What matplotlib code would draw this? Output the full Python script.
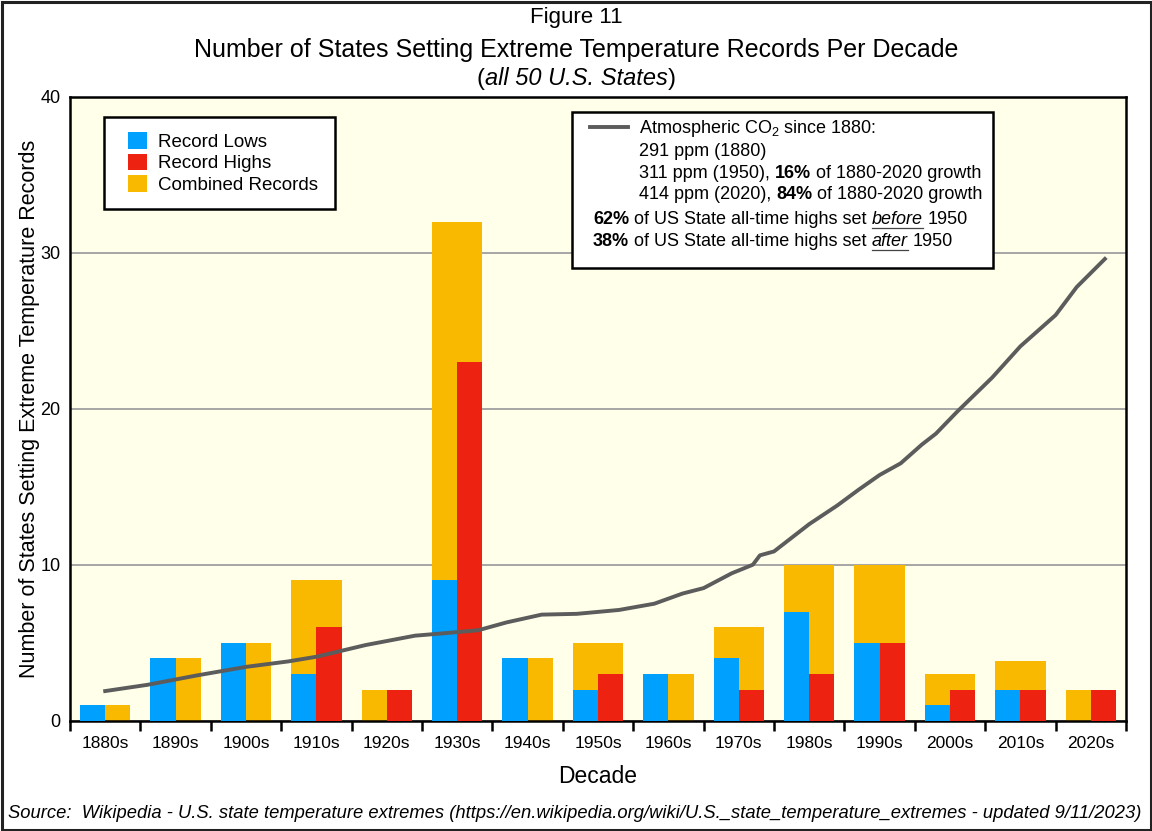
import numpy as np
import matplotlib
matplotlib.use('Agg')
import matplotlib.pyplot as plt
from matplotlib.patches import Patch, Rectangle
from matplotlib.lines import Line2D

plt.rcParams['font.family'] = ['Liberation Sans', 'DejaVu Sans']
plt.rcParams['mathtext.fontset'] = 'custom'
plt.rcParams['mathtext.rm'] = 'Liberation Sans'

# data
decades = ['1880s', '1890s', '1900s', '1910s', '1920s', '1930s', '1940s', '1950s',
           '1960s', '1970s', '1980s', '1990s', '2000s', '2010s', '2020s']
record_lows = [1, 4, 5, 3, 0, 9, 4, 2, 3, 4, 7, 5, 1, 2, 0]
record_highs = [0, 0, 0, 6, 2, 23, 0, 3, 0, 2, 3, 5, 2, 2, 2]
combined = [1, 4, 5, 9, 2, 32, 4, 5, 3, 6, 10, 10, 3, 3.8, 2]

# CO2 curve, already in chart units (as drawn on the left axis)
co2_years = [1880, 1886, 1893, 1900, 1906, 1910, 1917, 1924, 1928, 1933, 1937, 1942,
             1947, 1953, 1958, 1962, 1965, 1969, 1972, 1973, 1975, 1980, 1984, 1987,
             1990, 1993, 1996, 1998, 2001, 2006, 2010, 2015, 2018, 2022]
co2_level = [1.9, 2.3, 2.9, 3.45, 3.8, 4.1, 4.85, 5.45, 5.6, 5.8, 6.3, 6.8,
             6.85, 7.1, 7.5, 8.15, 8.5, 9.45, 10.0, 10.6, 10.85, 12.6, 13.8, 14.8,
             15.75, 16.5, 17.7, 18.4, 19.8, 22.0, 24.0, 26.0, 27.8, 29.6]

BLUE = '#00a0ff'
RED = '#ee2211'
ORANGE = '#f9b900'
GRAY = '#5c5c5c'

fig = plt.figure(figsize=(11.52, 8.31), dpi=100)
FW, FH = 1152.0, 831.0
ax = fig.add_axes([70 / FW, 1 - 720.7 / FH, (1126 - 70) / FW, (720.7 - 96.7) / FH])
ax.set_facecolor('#ffffea')

x = np.arange(len(decades))
w = 0.357
ax.bar(x, combined, width=2 * w, color=ORANGE, zorder=2)
ax.bar(x - w / 2, record_lows, width=w, color=BLUE, zorder=3)
ax.bar(x + w / 2, record_highs, width=w, color=RED, zorder=3)
co2_x = (np.array(co2_years) - 1880) / 10.0
ax.plot(co2_x, co2_level, color=GRAY, lw=2.8, zorder=4)

ax.set_xlim(-0.5, 14.5)
ax.set_ylim(0, 40)
ax.set_xticks(x)
ax.set_xticklabels(decades)
ax.set_xticks(np.arange(-0.5, 15, 1), minor=True)
ax.tick_params(axis='x', which='major', length=0, pad=11, labelsize=12.5)
ax.tick_params(axis='x', which='minor', length=7, width=1.8, direction='out')
ax.set_yticks([0, 10, 20, 30, 40])
ax.tick_params(axis='y', length=0, pad=7, labelsize=13)
ax.yaxis.grid(True, color='#a6a6a6', lw=1.4)
ax.set_axisbelow(True)
for sp in ax.spines.values():
    sp.set_linewidth(1.8)
    sp.set_color('black')

ax.set_ylabel('Number of States Setting Extreme Temperature Records', fontsize=15.5, labelpad=0)
ax.set_xlabel('Decade', fontsize=16.5, labelpad=10)

# legend: frame drawn separately so the content can sit where the original has it
ax.add_patch(Rectangle((104 / FW, 1 - 209 / FH), (335 - 104) / FW, (209 - 117) / FH,
                       transform=fig.transFigure, facecolor='white', edgecolor='black',
                       lw=1.8, zorder=6))
leg = ax.legend(handles=[Patch(facecolor=BLUE, label='Record Lows'),
                         Patch(facecolor=RED, label='Record Highs'),
                         Patch(facecolor=ORANGE, label='Combined Records')],
                loc='upper left', bbox_to_anchor=(113 / FW, 1 - 117 / FH),
                bbox_transform=fig.transFigure, frameon=False,
                fontsize=13.5, handlelength=1.0, handleheight=1.0,
                handletextpad=0.6, labelspacing=0.15, borderpad=0.8, borderaxespad=0)
leg.set_zorder(7)

renderer = fig.canvas.get_renderer()


def text_width(t):
    return t.get_window_extent(renderer).width


def space_width(size):
    a = fig.text(0, 0, 'x x', fontsize=size)
    b = fig.text(0, 0, 'xx', fontsize=size)
    d = text_width(a) - text_width(b)
    a.remove()
    b.remove()
    return d


def rich_line(x_px, base_px, parts, size, center=False):
    # parts: (text, weight, style, underline); ' ' is a plain space
    sp = space_width(size)
    items = []
    for s, weight, style, under in parts:
        if s == ' ':
            items.append((None, sp, False))
            continue
        t = fig.text(0, 1 - base_px / FH, s, fontsize=size, fontweight=weight,
                     fontstyle=style, va='baseline', ha='left')
        items.append((t, text_width(t), under))
    total = sum(i[1] for i in items)
    cur = x_px - total / 2 if center else x_px
    for t, wid, under in items:
        if t is not None:
            t.set_x(cur / FW)
            if under:
                yy = 1 - (base_px + 4) / FH
                fig.add_artist(Line2D([cur / FW, (cur + wid) / FW], [yy, yy],
                                      transform=fig.transFigure, color='#444444', lw=0.9))
        cur += wid


N = ('normal', 'normal', False)
B = ('bold', 'normal', False)

# titles
fig.text(0.5, 1 - 18 / FH, 'Figure 11', ha='center', va='center', fontsize=16)
fig.text(0.5, 1 - 50 / FH, 'Number of States Setting Extreme Temperature Records Per Decade',
         ha='center', va='center', fontsize=18)
rich_line(576, 85, [('(',) + N, ('all 50 U.S. States', 'normal', 'italic', False), (')',) + N],
          17, center=True)

# CO2 info box
fig.add_artist(Rectangle((572 / FW, 1 - 268 / FH), (993 - 572) / FW, (268 - 112) / FH,
                         transform=fig.transFigure, facecolor='white', edgecolor='black',
                         lw=1.8, zorder=1))
fig.add_artist(Line2D([590 / FW, 628 / FW], [1 - 127 / FH, 1 - 127 / FH],
                      transform=fig.transFigure, color=GRAY, lw=2.8))
fs = 13
fig.text(639 / FW, 1 - 133 / FH, r'Atmospheric CO$_2$ since 1880:', fontsize=fs, va='baseline')
fig.text(639 / FW, 1 - 156 / FH, '291 ppm (1880)', fontsize=fs, va='baseline')
rich_line(639, 178, [('311 ppm (1950),',) + N, (' ',) + N, ('16%',) + B, (' ',) + N,
                     ('of 1880-2020 growth',) + N], fs)
rich_line(639, 199, [('414 ppm (2020),',) + N, (' ',) + N, ('84%',) + B, (' ',) + N,
                     ('of 1880-2020 growth',) + N], fs)
rich_line(593, 224, [('62%',) + B, (' ',) + N, ('of US State all-time highs set',) + N,
                     (' ',) + N, ('before', 'normal', 'italic', True), (' ',) + N,
                     ('1950',) + N], fs)
rich_line(593, 246, [('38%',) + B, (' ',) + N, ('of US State all-time highs set',) + N,
                     (' ',) + N, ('after', 'normal', 'italic', True), (' ',) + N,
                     ('1950',) + N], fs)

fig.text(8 / FW, 1 - 814 / FH,
         'Source:  Wikipedia - U.S. state temperature extremes '
         '(https://en.wikipedia.org/wiki/U.S._state_temperature_extremes - updated 9/11/2023)',
         fontsize=13.2, fontstyle='italic', va='center')

# outer frame
fig.add_artist(Rectangle((1.5 / FW, 1.5 / FH), 1 - 3 / FW, 1 - 3 / FH, transform=fig.transFigure,
                         fill=False, edgecolor='#222222', lw=2.2, zorder=5))

fig.savefig('out.png', dpi=100)
